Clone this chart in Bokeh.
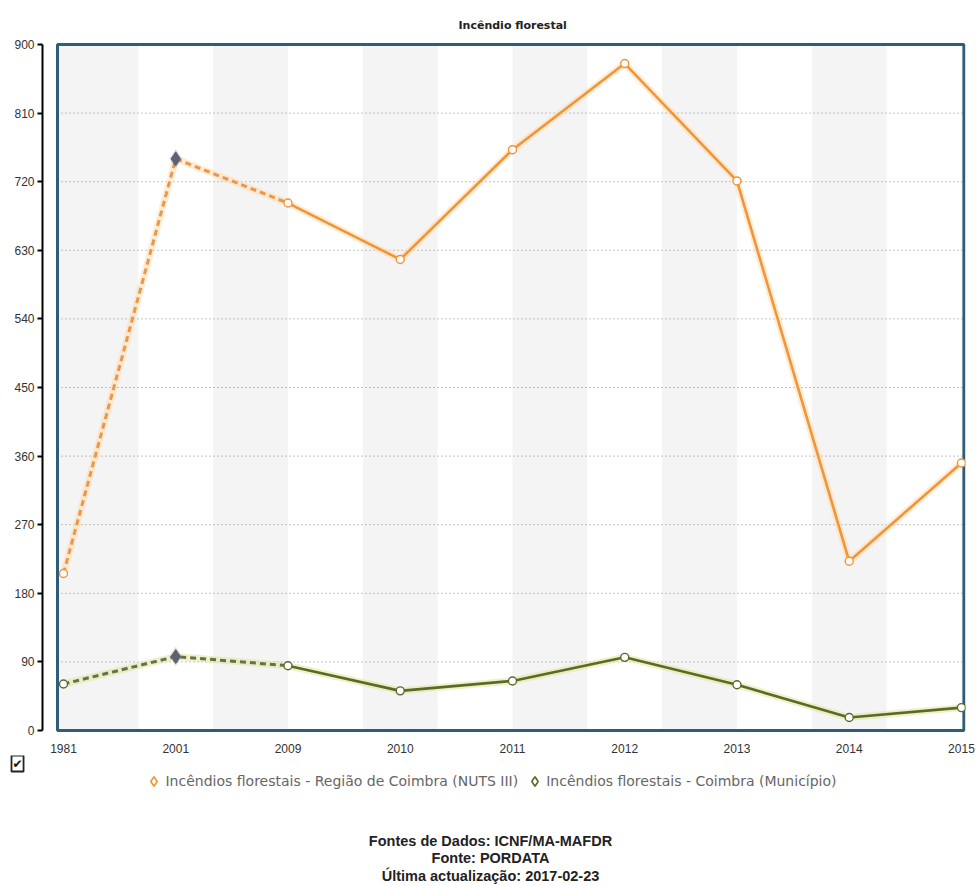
from bokeh.plotting import figure
from bokeh.models import (FixedTicker, Legend, LegendItem, Range1d, Label)
from bokeh.layouts import column
from bokeh.embed import file_html
from bokeh.resources import INLINE

# ---------------- data ----------------
years = ["1981", "2001", "2009", "2010", "2011", "2012", "2013", "2014", "2015"]
regiao = [206, 750, 692, 618, 762, 875, 721, 222, 351]
municipio = [61, 97, 85, 52, 65, 96, 60, 17, 30]
y_ticks = [0, 90, 180, 270, 360, 450, 540, 630, 720, 810, 900]
series_names = ["Incêndios florestais - Região de Coimbra (NUTS III)",
                "Incêndios florestais - Coimbra (Município)"]
title_text = "Incêndio florestal"
footer_lines = ["Fontes de Dados: ICNF/MA-MAFDR", "Fonte: PORDATA",
                "Última actualização: 2017-02-23"]
dashed_end = "2009"      # segments up to this year are drawn dashed
highlight_year = "2001"  # year drawn with a diamond marker

# ---------------- styles ----------------
ORANGE = "#f0953a"
ORANGE_GLOW = "#ffdcae"
GREEN = "#5b6a26"
GREEN_GLOW = "#e2e69a"
FRAME = "#2e5d78"
BAND = "#f4f4f4"
FONT = "Liberation Sans"

x = list(range(len(years)))
n = len(years)
d_end = years.index(dashed_end)
hi = years.index(highlight_year)

box_left, box_right = -0.0535, n - 1 + 0.022
y_min, y_max = y_ticks[0], y_ticks[-1]
pad = 2 * (y_max - y_min) / 686

p = figure(frame_width=923, frame_height=690,
           min_border_left=42, min_border_right=13, min_border_top=42,
           min_border_bottom=0,
           x_range=Range1d(-0.187, n - 1 + 0.036),
           y_range=Range1d(y_min - pad, y_max + pad),
           output_backend="svg", toolbar_location=None)
p.frame_align = False

p.background_fill_color = "white"
p.border_fill_color = "white"
p.outline_line_color = None
p.xgrid.visible = False
p.ygrid.visible = False

# title
p.title.text = title_text
p.title.align = "left"
p.title.offset = 416
p.title.text_font = "DejaVu Sans"
p.title.text_font_size = "11px"
p.title.text_font_style = "bold"
p.title.text_color = "#222222"
p.title.standoff = 22

# alternating bands (every 2/3 of a category, starting at the first category)
band_w = 2.0 / 3.0
band_l, band_r = [], []
k = 0
while 2 * k * band_w < box_right:
    l = 2 * k * band_w
    r = min(l + band_w, box_right)
    band_l.append(box_left if k == 0 else l)
    band_r.append(r)
    k += 1
p.quad(left=band_l, right=band_r, bottom=y_min, top=y_max,
       fill_color=BAND, line_color=None, level="image")

# dotted grid lines
p.segment(x0=[box_left] * len(y_ticks), x1=[box_right] * len(y_ticks),
          y0=y_ticks, y1=y_ticks, line_color="#8a8a8a", line_width=1,
          line_dash="1 3", level="underlay")

# plot box
p.quad(left=box_left, right=box_right, bottom=y_min, top=y_max,
       fill_color=None, line_color=FRAME, line_width=3)


def draw_series(vals, color, glow, dash_color):
    p.line(x, vals, line_color=glow, line_width=7, line_alpha=0.55)
    p.line(x[:d_end + 1], vals[:d_end + 1], line_color=dash_color,
           line_width=3, line_dash="6 4")
    p.line(x[d_end:], vals[d_end:], line_color=color, line_width=2.6)
    xs = [xi for i, xi in enumerate(x) if i != hi]
    ys = [v for i, v in enumerate(vals) if i != hi]
    p.scatter(xs, ys, marker="circle", size=8, fill_color="white",
              line_color=color, line_width=1.4)
    p.scatter([x[hi]], [vals[hi]], marker="diamond", size=20,
              fill_color="#8a909a", fill_alpha=0.25, line_color=None)
    p.scatter([x[hi]], [vals[hi]], marker="diamond", size=14,
              fill_color="#5c6370", line_color="#5c6370")


draw_series(regiao, ORANGE, ORANGE_GLOW, "#e8984e")
draw_series(municipio, GREEN, GREEN_GLOW, "#66704e")

# axes
p.yaxis.ticker = FixedTicker(ticks=y_ticks)
p.yaxis.bounds = (y_min, y_max)
p.yaxis.axis_line_color = "black"
p.yaxis.axis_line_width = 2
p.yaxis.major_tick_line_color = "black"
p.yaxis.major_tick_line_width = 2
p.yaxis.major_tick_out = 5
p.yaxis.major_tick_in = 0
p.yaxis.minor_tick_line_color = None
p.yaxis.major_label_text_font = FONT
p.yaxis.major_label_text_font_size = "12px"
p.yaxis.major_label_text_color = "#333333"
p.yaxis.major_label_standoff = 3

p.xaxis.ticker = FixedTicker(ticks=x)
p.xaxis.major_label_overrides = {i: y for i, y in zip(x, years)}
p.xaxis.axis_line_color = None
p.xaxis.major_tick_line_color = None
p.xaxis.minor_tick_line_color = None
p.xaxis.major_label_text_font = FONT
p.xaxis.major_label_text_font_size = "12px"
p.xaxis.major_label_text_color = "#333333"
p.xaxis.major_label_standoff = 5

# ---------------- lower strip: checkbox, legend, sources ----------------
H2 = 133
p2 = figure(width=978, height=H2, x_range=Range1d(0, 978), y_range=Range1d(H2, 0),
            min_border=0, x_axis_location=None, y_axis_location=None,
            output_backend="svg", toolbar_location=None)
p2.frame_align = False
p2.xgrid.visible = False
p2.ygrid.visible = False
p2.outline_line_color = None
p2.background_fill_color = "white"
p2.border_fill_color = "white"

p2.add_layout(Label(x=11, y=0, text="✔", text_align="left", text_baseline="top",
                    text_font="DejaVu Sans", text_font_size="12px",
                    text_font_style="bold",
                    text_color="#111111", border_line_color="#222222",
                    border_line_width=1.8, background_fill_color="white",
                    padding=1))

# legend renderers (a point far outside the view, only used for the legend glyph)
r1 = p2.scatter([-1e6], [-1e6], marker="diamond", size=11, fill_color="white",
                line_color=ORANGE, line_width=1.6)
r2 = p2.scatter([-1e6], [-1e6], marker="diamond", size=11, fill_color="white",
                line_color=GREEN, line_width=1.6)
legend = Legend(items=[LegendItem(label=series_names[0], renderers=[r1]),
                       LegendItem(label=series_names[1], renderers=[r2])],
                orientation="horizontal", location="top_center")
legend.label_text_font = "DejaVu Sans"
legend.label_text_font_size = "14px"
legend.label_text_color = "#666666"
legend.border_line_color = None
legend.background_fill_alpha = 0
legend.glyph_width = 24
legend.glyph_height = 24
legend.label_standoff = 0
legend.spacing = 4
legend.padding = 0
legend.margin = 14
p2.add_layout(legend)

for i, line in enumerate(footer_lines):
    p2.add_layout(Label(x=490, y=85 + 17.5 * i, text=line, text_align="center",
                        text_baseline="middle", text_font=FONT,
                        text_font_size="14.5px", text_font_style="bold",
                        text_color="#222222"))

layout = column(p, p2, spacing=0)
open("out.html", "w").write(file_html(layout, INLINE))
